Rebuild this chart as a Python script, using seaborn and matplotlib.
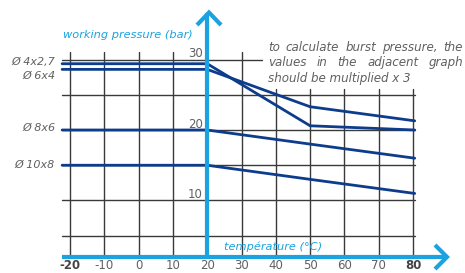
import matplotlib
matplotlib.use("Agg")
import matplotlib.pyplot as plt
import seaborn as sns
import pandas as pd
import numpy as np

# ---------------- data ----------------
temps = [-22.3, 20, 50, 80.5]
series_names = ["Ø 4x2,7", "Ø 6x4", "Ø 8x6", "Ø 10x8"]
p_4x27 = [29.4, 29.4, 20.6, 20.0]
p_6x4 = [28.6, 28.6, 23.3, 21.3]
p_8x6 = [20.0, 20.0, 18.0, 16.0]
p_10x8 = [15.0, 15.0, 13.0, 11.0]
x_ticks = [-20, -10, 0, 10, 20, 30, 40, 50, 60, 70, 80]
x_tick_labels = ["-20", "-10", "0", "10", "20", "30", "40", "50", "60", "70", "80"]
y_ticks = [30, 20, 10]
y_tick_labels = ["30", "20", "10"]
note_lines = ["to calculate burst pressure, the",
              "values in the adjacent graph",
              "should be multiplied x 3"]

NAVY = "#0d3c8c"
BLUE = "#1aa3e0"
GRID = "#3a3a3a"
GRAY = "#606060"

sns.set_style("white")
plt.rcParams["font.family"] = ["DejaVu Sans"]

fig = plt.figure(figsize=(4.65, 2.73), dpi=100)
ax = fig.add_axes([0, 0, 1, 1])

# pixel helpers (pixel from top-left)
def X(px):
    return -20 + (px - 70) / 3.43
def Y(py):
    return 20 - (py - 130) / 7.05

# ---------------- grid ----------------
for t in [-20, -10, 0, 10, 30]:
    ax.plot([t, t], [2, Y(52)], color=GRID, lw=1, zorder=1)
for t in [40, 50, 60, 70, 80]:
    ax.plot([t, t], [2, Y(89)], color=GRID, lw=1, zorder=1)
ax.plot([X(62), X(262)], [30, 30], color=GRID, lw=1, zorder=1)
for p in [25, 20, 15, 10, 5]:
    ax.plot([X(62), 80.5], [p, p], color=GRID, lw=1, zorder=1)

# ---------------- series ----------------
df = pd.DataFrame({
    "T": temps * 4,
    "P": p_4x27 + p_6x4 + p_8x6 + p_10x8,
    "s": sum([[n] * len(temps) for n in series_names], []),
})
sns.lineplot(data=df, x="T", y="P", units="s", estimator=None, color=NAVY,
             lw=2, ax=ax, zorder=3, sort=False)
ax.set_xlim(-40.41, 95.16)
ax.set_ylim(-0.284, 38.44)
ax.axis("off")

# ---------------- blue axes with arrows ----------------
ax.plot([X(62), X(447)], [2, 2], color=BLUE, lw=3, zorder=4, solid_capstyle="butt")
ax.plot([20, 20], [2, Y(13)], color=BLUE, lw=3, zorder=4, solid_capstyle="butt")
ax.plot([X(435), X(447), X(435)], [Y(245), Y(257), Y(269)], color=BLUE, lw=3,
        zorder=4, solid_joinstyle="miter", solid_capstyle="butt")
ax.plot([X(197), X(209), X(221)], [Y(25), Y(12.5), Y(25)], color=BLUE, lw=3,
        zorder=4, solid_joinstyle="miter", solid_capstyle="butt")

# ---------------- texts ----------------
for t, lab in zip(x_ticks, x_tick_labels):
    bold = lab in ("-20", "80")
    ax.text(t, Y(272.5), lab, ha="center", va="bottom", fontsize=8.5,
            color="#444444" if bold else GRAY, fontweight="bold" if bold else "normal")
for p, lab in zip(y_ticks, y_tick_labels):
    ax.text(X(203), p + 0.35, lab, ha="right", va="baseline", fontsize=8.5, color=GRAY)

label_py = [62, 76, 128, 165]
for n, py in zip(series_names, label_py):
    ax.text(X(55), Y(py), n, ha="right", va="center", fontsize=8,
            color=GRAY, style="italic")

ax.text(X(63), Y(35), "working pressure (bar)", ha="left", va="center",
        fontsize=8.2, color=BLUE, style="italic")
ax.text(X(224), Y(247), "température (°C)", ha="left", va="center",
        fontsize=8.2, color=BLUE, style="italic")

# justified note
fig.canvas.draw()
renderer = fig.canvas.get_renderer()
note_py = [47, 62, 78]
left_px, right_px = 268, 463
for i, (line, py) in enumerate(zip(note_lines, note_py)):
    if i == len(note_lines) - 1:
        ax.text(X(left_px), Y(py), line, ha="left", va="center", fontsize=8.6,
                color=GRAY, style="italic")
        continue
    words = line.split(" ")
    objs = [ax.text(0, Y(py), w, ha="left", va="center", fontsize=8.6,
                    color=GRAY, style="italic") for w in words]
    widths = [o.get_window_extent(renderer).width for o in objs]
    gap = (right_px - left_px - sum(widths)) / (len(words) - 1)
    cur = left_px
    for o, w in zip(objs, widths):
        o.set_x(X(cur))
        cur += w + gap

fig.savefig("out.png", dpi=100)
